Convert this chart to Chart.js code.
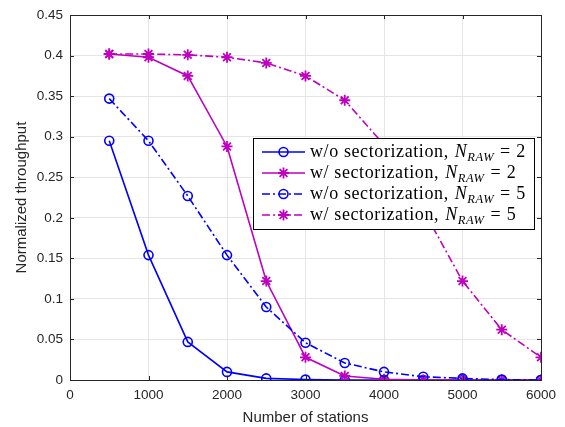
<!DOCTYPE html>
<html>
<head>
<meta charset="utf-8">
<script src="https://cdn.jsdelivr.net/npm/chart.js@4"></script>
<style>
  html, body { margin: 0; padding: 0; background: #fff; }
  #wrap { width: 565px; height: 427px; }
</style>
</head>
<body>
<div id="wrap"><canvas id="chart" width="565" height="427"></canvas></div>
<script>
// number of stations (x axis)
const stations = [500, 1000, 1500, 2000, 2500, 3000, 3500, 4000, 4500, 5000, 5500, 6000];

// normalized throughput per series
const woSectRaw2 = [0.295, 0.154, 0.047, 0.010, 0.002, 0.0005, 0, 0, 0, 0, 0, 0];
const wSectRaw2 = [0.402, 0.398, 0.375, 0.288, 0.122, 0.028, 0.005, 0.001, 0, 0, 0, 0];
const woSectRaw5 = [0.347, 0.295, 0.227, 0.154, 0.090, 0.046, 0.021, 0.010, 0.004, 0.002, 0.0005, 0];
const wSectRaw5 = [0.402, 0.402, 0.401, 0.398, 0.391, 0.375, 0.345, 0.290, 0.210, 0.122, 0.062, 0.028];

const xTicks = [0, 1000, 2000, 3000, 4000, 5000, 6000];
const yTicks = [0, 0.05, 0.1, 0.15, 0.2, 0.25, 0.3, 0.35, 0.4, 0.45];

const legendPrefix = ['w/o sectorization, ', 'w/ sectorization, ', 'w/o sectorization, ', 'w/ sectorization, '];
const legendRaw = ['2', '2', '5', '5'];

const BLUE = '#0000ff';
const MAGENTA = '#bf00bf';
const DASHDOT = [8, 3, 2, 3];

function toPoints(vals) {
    return stations.map((s, i) => ({ x: s, y: vals[i] }));
}

function makeSet(label, vals, color, marker, dash, order) {
    return {
        label: label,
        data: toPoints(vals),
        borderColor: color,
        backgroundColor: 'transparent',
        borderWidth: 1.6,
        borderDash: dash,
        pointStyle: marker,
        pointRadius: marker === 'star' ? 5.5 : 4.5,
        pointBorderWidth: marker === 'star' ? 1.8 : 1.6,
        pointBorderColor: color,
        pointBackgroundColor: 'transparent',
        tension: 0,
        order: order
    };
}

const datasets = [
    makeSet('w/o sectorization, N_RAW = 2', woSectRaw2, BLUE, 'circle', [], 4),
    makeSet('w/ sectorization, N_RAW = 2', wSectRaw2, MAGENTA, 'star', [], 3),
    makeSet('w/o sectorization, N_RAW = 5', woSectRaw5, BLUE, 'circle', DASHDOT, 2),
    makeSet('w/ sectorization, N_RAW = 5', wSectRaw5, MAGENTA, 'star', DASHDOT, 1)
];

// box around the axes plus inward tick marks, like the original figure
const boxPlugin = {
    id: 'box',
    afterDatasetsDraw(chart) {
        const ctx = chart.ctx;
        const a = chart.chartArea;
        const xs = chart.scales.x;
        const ys = chart.scales.y;
        ctx.save();
        ctx.strokeStyle = '#262626';
        ctx.lineWidth = 1;
        ctx.beginPath();
        xTicks.forEach(t => {
            const px = Math.round(xs.getPixelForValue(t)) + 0.5;
            ctx.moveTo(px, a.bottom); ctx.lineTo(px, a.bottom - 4);
            ctx.moveTo(px, a.top); ctx.lineTo(px, a.top + 4);
        });
        yTicks.forEach(t => {
            const py = Math.round(ys.getPixelForValue(t)) + 0.5;
            ctx.moveTo(a.left, py); ctx.lineTo(a.left + 4, py);
            ctx.moveTo(a.right, py); ctx.lineTo(a.right - 4, py);
        });
        ctx.stroke();
        ctx.strokeRect(Math.round(a.left) + 0.5, Math.round(a.top) + 0.5,
            Math.round(a.right - a.left), Math.round(a.bottom - a.top));
        ctx.restore();
    }
};

// legend with italic N and subscript RAW
const legendPlugin = {
    id: 'texLegend',
    afterDraw(chart) {
        const ctx = chart.ctx;
        const bx = 253.5, by = 138.5, bw = 281, bh = 91;
        ctx.save();
        ctx.fillStyle = '#fff';
        ctx.fillRect(bx, by, bw, bh);
        ctx.strokeStyle = '#000';
        ctx.lineWidth = 1;
        ctx.strokeRect(bx, by, bw, bh);
        const rowY = [152, 173, 194, 215];
        datasets.forEach((ds, i) => {
            const y = rowY[i];
            ctx.letterSpacing = '0px';
            ctx.strokeStyle = ds.borderColor;
            ctx.lineWidth = ds.borderWidth;
            ctx.setLineDash(ds.borderDash);
            ctx.beginPath();
            ctx.moveTo(262, y); ctx.lineTo(305, y);
            ctx.stroke();
            ctx.setLineDash([]);
            ctx.fillStyle = 'rgba(0,0,0,0)';
            ctx.lineWidth = ds.pointBorderWidth;
            Chart.helpers.drawPoint(ctx, {
                pointStyle: ds.pointStyle,
                radius: ds.pointRadius,
                borderWidth: ds.pointBorderWidth,
                rotation: 0
            }, 283.5, y);

            ctx.fillStyle = '#000';
            ctx.textBaseline = 'alphabetic';
            let x = 310;
            const base = y + 5;
            ctx.letterSpacing = '0.6px';
            ctx.font = '18px "Liberation Serif"';
            ctx.fillText(legendPrefix[i], x, base);
            x += ctx.measureText(legendPrefix[i]).width + 1;
            ctx.letterSpacing = '0px';
            ctx.font = 'italic 18px "Liberation Serif"';
            ctx.fillText('N', x, base);
            x += ctx.measureText('N').width + 0.5;
            ctx.font = 'italic 12.5px "Liberation Serif"';
            ctx.letterSpacing = '0.5px';
            ctx.fillText('RAW', x, base + 4);
            x += ctx.measureText('RAW').width + 6;
            ctx.letterSpacing = '0px';
            ctx.font = '18px "Liberation Serif"';
            ctx.fillText('=', x, base);
            x += ctx.measureText('=').width + 6;
            ctx.fillText(legendRaw[i], x, base);
        });
        ctx.restore();
    }
};

const ctx = document.getElementById('chart').getContext('2d');
new Chart(ctx, {
    type: 'line',
    data: { datasets: datasets },
    options: {
        responsive: false,
        animation: false,
        layout: { padding: { top: 8, right: 24, left: 0, bottom: 0 } },
        plugins: {
            legend: { display: false },
            tooltip: { enabled: false }
        },
        scales: {
            x: {
                type: 'linear',
                min: 0,
                max: 6000,
                afterFit(scale) { scale.height = 47; },
                afterBuildTicks(scale) { scale.ticks = xTicks.map(v => ({ value: v })); },
                grid: { color: '#e5e5e5', drawTicks: false },
                border: { display: false },
                ticks: {
                    color: '#262626',
                    padding: 7,
                    maxRotation: 0,
                    callback: v => String(v),
                    font: { family: '"Liberation Sans", Arial, sans-serif', size: 13.5 }
                },
                title: {
                    display: true,
                    text: 'Number of stations',
                    color: '#262626',
                    padding: { top: 1, bottom: 0 },
                    font: { family: '"Liberation Sans", Arial, sans-serif', size: 15 }
                }
            },
            y: {
                min: 0,
                max: 0.45,
                afterFit(scale) { scale.width = 70; },
                afterBuildTicks(scale) { scale.ticks = yTicks.map(v => ({ value: v })); },
                grid: { color: '#e5e5e5', drawTicks: false },
                border: { display: false },
                ticks: {
                    color: '#262626',
                    padding: 7,
                    callback: v => String(Math.round(v * 100) / 100),
                    font: { family: '"Liberation Sans", Arial, sans-serif', size: 13.5 }
                },
                title: {
                    display: true,
                    text: 'Normalized throughput',
                    color: '#262626',
                    padding: { top: 13, bottom: 0 },
                    font: { family: '"Liberation Sans", Arial, sans-serif', size: 15 }
                }
            }
        }
    },
    plugins: [boxPlugin, legendPlugin]
});
</script>
</body>
</html>
